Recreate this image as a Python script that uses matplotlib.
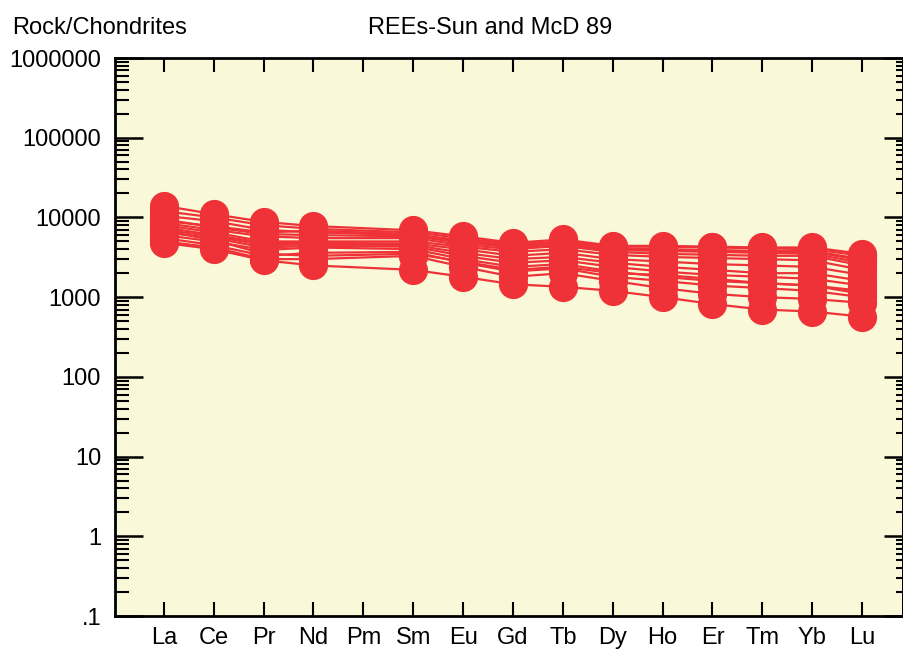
import numpy as np
import matplotlib.pyplot as plt
from matplotlib.ticker import LogLocator, FixedFormatter, FixedLocator, NullFormatter

plt.rcParams['font.family'] = ['Liberation Sans Narrow', 'Liberation Sans', 'DejaVu Sans']

elements = ['La', 'Ce', 'Pr', 'Nd', 'Pm', 'Sm', 'Eu', 'Gd', 'Tb', 'Dy', 'Ho', 'Er', 'Tm', 'Yb', 'Lu']
nan = np.nan

# chondrite-normalised REE patterns, Pm not analysed
s1 = [14000, 11000, 8800, 7800, nan, 6900, 5800, 4800, 5300, 4400, 4400, 4300, 4200, 4200, 3500]
s2 = [12000, 10000, 8000, 7200, nan, 6500, 5500, 4600, 5000, 4300, 4300, 4200, 4100, 4000, 3300]
s3 = [10500, 9000, 7000, 6500, nan, 6000, 5200, 4400, 4800, 4100, 4000, 3900, 3800, 3800, 3000]
s4 = [9500, 7500, 6200, 6000, nan, 5800, 4800, 4200, 4600, 3900, 3800, 3700, 3600, 3500, 2700]
s5 = [8500, 7000, 5800, 5500, nan, 5500, 4500, 4000, 4400, 3700, 3500, 3400, 3300, 3300, 2500]
s6 = [8000, 6500, 5000, 5000, nan, 5000, 4300, 3700, 4000, 3400, 3200, 3100, 3000, 2900, 2200]
s7 = [7500, 6000, 4800, 4800, nan, 4700, 4000, 3300, 3600, 3000, 2800, 2600, 2500, 2400, 1900]
s8 = [7000, 5800, 4500, 4600, nan, 4500, 3600, 3000, 3200, 2700, 2400, 2200, 2000, 2000, 1600]
s9 = [6500, 5500, 4200, 4400, nan, 4300, 3300, 2700, 2900, 2400, 2100, 1900, 1800, 1700, 1400]
s10 = [6000, 5000, 3900, 4200, nan, 4000, 3000, 2400, 2600, 2100, 1800, 1600, 1500, 1400, 1200]
s11 = [5500, 4500, 3300, 3600, nan, 3700, 2700, 2100, 2300, 1800, 1600, 1400, 1300, 1200, 1000]
s12 = [5000, 4200, 3000, 3000, nan, 3300, 2400, 1800, 2000, 1600, 1300, 1100, 1000, 950, 850]
s13 = [4800, 4000, 2900, 2500, nan, 2200, 1800, 1450, 1350, 1200, 1000, 820, 700, 660, 570]
s14 = [9000, 7800, 6500, 6800, nan, 6200, 5000, 4300, 4700, 4000, 3900, 3800, 3700, 3700, 2900]
s15 = [6800, 5200, 3500, 3300, nan, 3500, 2800, 2200, 2400, 2000, 1900, 1700, 1500, 1400, 1100]
samples = [s1, s2, s3, s4, s5, s6, s7, s8, s9, s10, s11, s12, s13, s14, s15]

y_ticks = [0.1, 1, 10, 100, 1000, 10000, 100000, 1000000]
y_labels = ['.1', '1', '10', '100', '1000', '10000', '100000', '1000000']

red = '#ef3237'
fig = plt.figure(figsize=(9.04, 6.52), dpi=100)
ax = fig.add_axes([0.1272, 0.0552, 0.8717, 0.8558])
ax.set_facecolor('#f9f8d8')

x = np.arange(len(elements))
for s in samples:
    s = np.array(s, dtype=float)
    ok = ~np.isnan(s)
    ax.plot(x[ok], s[ok], color=red, lw=1.6, marker='o', ms=20,
            mfc=red, mec=red, zorder=3)

ax.set_yscale('log')
ax.set_ylim(0.1, 1e6)
ax.set_xlim(-0.98, 14.82)
ax.yaxis.set_major_locator(FixedLocator(y_ticks))
ax.yaxis.set_major_formatter(FixedFormatter(y_labels))
ax.yaxis.set_minor_locator(LogLocator(base=10, subs=np.arange(2, 10)))
ax.yaxis.set_minor_formatter(NullFormatter())
ax.set_xticks(x)
ax.set_xticklabels(elements)

ax.tick_params(axis='y', which='major', direction='in', length=20, width=1.8,
               left=True, right=False, labelsize=17, pad=10)
ax.tick_params(axis='y', which='minor', direction='in', length=10, width=1.5,
               left=True, right=False)
ax.tick_params(axis='x', which='major', direction='in', length=10, width=1.5,
               top=True, bottom=True, labelsize=17, pad=8)

sec = ax.secondary_yaxis('right')
sec.yaxis.set_major_locator(FixedLocator(y_ticks))
sec.yaxis.set_minor_locator(LogLocator(base=10, subs=np.arange(2, 10)))
sec.tick_params(which='major', direction='in', length=14, width=1.8, labelright=False)
sec.tick_params(which='minor', direction='in', length=5, width=1.5)
sec.spines['right'].set_linewidth(2)

for sp in ax.spines.values():
    sp.set_linewidth(2)

fig.text(0.013, 0.957, 'Rock/Chondrites', fontsize=17, ha='left', va='center')
fig.text(0.542, 0.957, 'REEs-Sun and McD 89', fontsize=17, ha='center', va='center')

fig.savefig('out.png', dpi=100)
